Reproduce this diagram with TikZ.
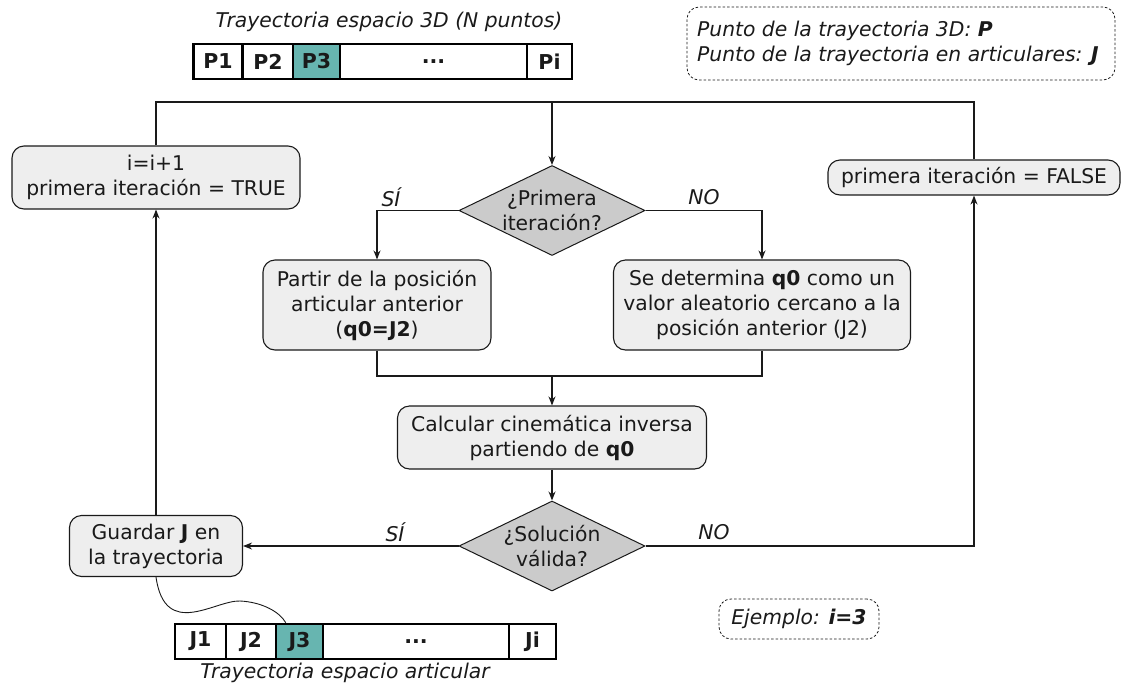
\documentclass[tikz,border=0pt]{standalone}
\usepackage{fontspec}
\setmainfont{DejaVu Sans}
\usetikzlibrary{shapes.geometric,arrows.meta,calc}
\definecolor{boxfill}{HTML}{EEEEEE}
\definecolor{diafill}{HTML}{CBCBCB}
\definecolor{sel}{HTML}{67B5B0}
\definecolor{ink}{HTML}{1A1A1A}
\begin{document}
\begin{tikzpicture}[x=1pt,y=-1pt,
  every node/.style={text=ink, font=\fontsize{20.3}{25}\selectfont},
  proc/.style={draw=ink, fill=boxfill, rounded corners=12pt, line width=1.1pt,
    align=center, inner sep=0pt},
  decision/.style={diamond, draw=ink, fill=diafill, line width=1pt,
    inner sep=0pt, minimum width=186pt, minimum height=90pt},
  dtext/.style={align=center, inner sep=0pt},
  cell/.style={draw=black, line width=2.6pt, fill=white, minimum height=35pt,
    inner sep=0pt, font=\fontsize{20.5}{24}\selectfont\bfseries},
  note/.style={draw=ink, dash pattern=on 2.5pt off 2pt, line width=0.8pt,
    rounded corners=12pt, inner sep=0pt},
  flow/.style={draw=ink, line width=1.1pt},
  arrow/.style={flow, -{Stealth[length=9pt,width=7pt]}},
  lbl/.style={font=\fontsize{20.3}{25}\selectfont\itshape}
]
\useasboundingbox (0,0) rectangle (1122,686);

% trajectory in 3D space
\node[lbl] (ttl3d) at (389,22) {Trayectoria espacio 3D (N puntos)};
\node[cell, minimum width=49pt] (p1) at (218,61.5) {P1};
\node[cell, minimum width=50pt] (p2) at (268,61.5) {P2};
\node[cell, minimum width=47pt, fill=sel] (p3) at (316.5,61.5) {P3};
\node[cell, minimum width=187pt] (pdots) at (433.5,61.5) {...};
\node[cell, minimum width=45pt] (pi) at (549.5,61.5) {Pi};

% legend
\node[note, minimum width=428pt, minimum height=73pt] (legend) at (901,43.5) {};
\node[lbl, anchor=west, align=left] (legendtxt) at ([xshift=7pt]legend.west)
  {Punto de la trayectoria 3D: \textbf{P}\\Punto de la trayectoria en articulares: \textbf{J}};

% process steps
\node[proc, minimum width=288pt, minimum height=63pt] (inc) at (156,177.5)
  {i=i+1\\primera iteración = TRUE};
\node[proc, minimum width=292pt, minimum height=35pt] (false) at (974,177.5)
  {primera iteración = FALSE};
\node[decision] (q1) at (552,210.5) {};
\node[dtext] (q1txt) at (q1.center) {¿Primera\\iteración?};
\node[proc, minimum width=228pt, minimum height=90pt] (partir) at (377,305)
  {Partir de la posición\\articular anterior\\(\textbf{q0=J2})};
\node[proc, minimum width=297pt, minimum height=90pt] (det) at (762,305)
  {Se determina \textbf{q0} como un\\valor aleatorio cercano a la\\posición anterior (J2)};
\node[proc, minimum width=309pt, minimum height=63pt] (calc) at (552,437.5)
  {Calcular cinemática inversa\\partiendo de \textbf{q0}};
\node[decision] (q2) at (552,546) {};
\node[dtext] (q2txt) at (q2.center) {¿Solución\\válida?};
\node[proc, minimum width=173pt, minimum height=61pt] (guardar) at (156,546)
  {Guardar \textbf{J} en\\la trayectoria};

% branch labels
\node[lbl] (si1) at (391,197) {SÍ};
\node[lbl] (no1) at (704,197) {NO};
\node[lbl] (si2) at (395,532) {SÍ};
\node[lbl] (no2) at (714,532) {NO};

% loop back to the first decision
\coordinate (loopy) at (0,102);
\draw[flow] (inc.north) -- (inc.north |- loopy) -- (false.north |- loopy) -- (false.north);
\draw[arrow] (q1.north |- loopy) -- (q1.north);

% first decision branches and merge
\draw[arrow] (q1.west) -| (partir.north);
\draw[arrow] (q1.east) -| (det.north);
\coordinate (mergey) at (0,376);
\draw[flow] (partir.south) -- (partir.south |- mergey) -- (det.south |- mergey) -- (det.south);
\draw[arrow] (calc.north |- mergey) -- (calc.north);
\draw[arrow] (calc.south) -- (q2.north);

% second decision branches
\draw[arrow] (q2.west) -- (guardar.east);
\draw[arrow] (q2.east) -| (false.south);
\draw[arrow] (guardar.north) -- (inc.south);

% trajectory in joint space
\node[cell, minimum width=51pt] (j1) at (200.5,641.5) {J1};
\node[cell, minimum width=50pt] (j2) at (251,641.5) {J2};
\node[cell, minimum width=47pt, fill=sel] (j3) at (299.5,641.5) {J3};
\node[cell, minimum width=186pt] (jdots) at (416,641.5) {...};
\node[cell, minimum width=47pt] (ji) at (532.5,641.5) {Ji};
\node[lbl] (ttlart) at (345,673) {Trayectoria espacio articular};

% stored point linked to its slot
\coordinate (j3in) at ($(j3.north west)+(11,0)$);
\coordinate (wave) at (240,601);
\draw[flow, line width=0.9pt] (guardar.south) .. controls (165,640) and (215,600) .. (wave)
  .. controls (262,602) and (280,612) .. (j3in);

% example note
\node[note, minimum width=160pt, minimum height=40pt] (ejemplo) at (799,619)
  {\itshape Ejemplo: \textbf{i=3}};
\end{tikzpicture}
\end{document}
